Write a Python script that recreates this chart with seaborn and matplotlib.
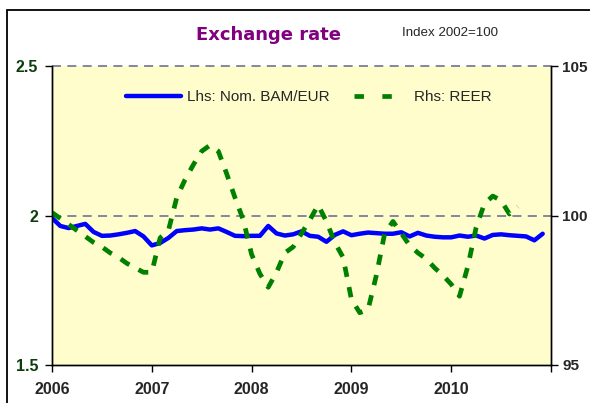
import numpy as np
import pandas as pd
import matplotlib
matplotlib.use("Agg")
import matplotlib.pyplot as plt
from matplotlib.patches import Rectangle
import seaborn as sns

# monthly values, Jan 2006 onwards
bam_eur = [1.992, 1.965, 1.958, 1.965, 1.972, 1.945, 1.932, 1.933, 1.937, 1.942, 1.948, 1.930,
           1.900, 1.908, 1.925, 1.948, 1.951, 1.953, 1.957, 1.953, 1.957, 1.945, 1.932, 1.931,
           1.932, 1.932, 1.965, 1.940, 1.933, 1.937, 1.947, 1.932, 1.929, 1.912, 1.935, 1.947,
           1.934, 1.939, 1.943, 1.941, 1.939, 1.939, 1.944, 1.930, 1.942, 1.933, 1.929, 1.927,
           1.927, 1.933, 1.929, 1.933, 1.923, 1.935, 1.937, 1.934, 1.932, 1.930, 1.917, 1.939]
reer = [100.1, 99.9, 99.7, 99.5, 99.3, 99.1, 98.95, 98.75, 98.6, 98.4, 98.25, 98.1,
        98.1, 99.25, 99.5, 100.6, 101.2, 101.7, 102.15, 102.35, 102.15, 101.4, 100.6, 99.85,
        98.7, 98.05, 97.6, 98.1, 98.75, 98.95, 99.4, 99.85, 100.35, 99.8, 99.1, 98.6,
        97.2, 96.75, 96.85, 98.0, 99.4, 99.8, 99.4, 99.0, 98.75, 98.55, 98.25, 98.0,
        97.7, 97.3, 98.3, 99.6, 100.4, 100.65, 100.5, 100.05, 100.3]
years = [2006, 2007, 2008, 2009, 2010]

t_bam = [2006 + i / 12 for i in range(len(bam_eur))]
t_reer = [2006 + i / 12 for i in range(len(reer))]
df_bam = pd.DataFrame({"t": t_bam, "v": bam_eur})
df_reer = pd.DataFrame({"t": t_reer, "v": reer})

sns.set_style("white")
plt.rcParams["font.family"] = ["Liberation Sans", "DejaVu Sans"]

fig = plt.figure(figsize=(5.9, 4.03), dpi=100)
ax = fig.add_axes([52 / 590, 38 / 403, 499 / 590, 299 / 403])
ax.set_facecolor("#FFFDCC")
ax2 = ax.twinx()

for y in [2.0, 2.5]:
    ax.axhline(y, color="#7c7c9c", lw=1.3, ls=(0, (5, 3.5)), zorder=1, clip_on=False)

sns.lineplot(data=df_bam, x="t", y="v", ax=ax, color="#0000FF", lw=3.2,
             label="Lhs: Nom. BAM/EUR", legend=False, zorder=3)
sns.lineplot(data=df_reer, x="t", y="v", ax=ax2, color="#008000", lw=3.4,
             dashes=False, label="Rhs: REER", legend=False, zorder=2)
ax2.lines[0].set_dashes((2.2, 2.2))

ax.set_xlim(2006, 2011)
ax.set_ylim(1.5, 2.5)
ax2.set_ylim(95, 105)
ax.set_xticks(years + [2011])
ax.set_xticklabels([str(y) for y in years] + [""], fontweight="bold", fontsize=11.5)
ax.set_yticks([1.5, 2.0, 2.5])
ax.set_yticklabels(["1.5", "2", "2.5"], fontweight="bold", fontsize=11.5, color="#0d3d0d")
ax2.set_yticks([95, 100, 105])
ax2.set_yticklabels(["95", "100", "105"], fontweight="bold", fontsize=11)
ax.set_xlabel("")
ax.set_ylabel("")
ax2.set_ylabel("")

ax.tick_params(axis="x", direction="out", length=5, width=1, color="black", pad=7, bottom=True)
ax.tick_params(axis="y", direction="out", length=5, width=1, color="black", pad=5, left=True)
ax2.tick_params(axis="y", direction="out", length=5, width=1, color="black", pad=3, right=True)

for a in (ax, ax2):
    a.spines["top"].set_visible(False)
    for s in ("left", "right", "bottom"):
        a.spines[s].set_color("black")
        a.spines[s].set_linewidth(1)

h1, l1 = ax.get_legend_handles_labels()
h2, l2 = ax2.get_legend_handles_labels()
leg = ax2.legend(h1 + h2, l1 + l2, loc="upper center", bbox_to_anchor=(0.515, 0.965), ncol=2,
                 frameon=False, fontsize=11, handlelength=3.6, columnspacing=1.6,
                 handletextpad=0.35)
leg.get_lines()[1].set_dashes((2.0, 3.9))

fig.text(0.455, 0.912, "Exchange rate", ha="center", va="center", fontsize=13,
         fontweight="bold", color="#800080", family=["DejaVu Sans"])
fig.text(0.681, 0.917, "Index 2002=100", ha="left", va="center", fontsize=9.6)

fig.patches.append(Rectangle((7 / 590, -0.1), 1.2, 0.1 + (403 - 10) / 403,
                             transform=fig.transFigure, fill=False, ec="black", lw=1.3))

fig.savefig("out.png", dpi=100)
